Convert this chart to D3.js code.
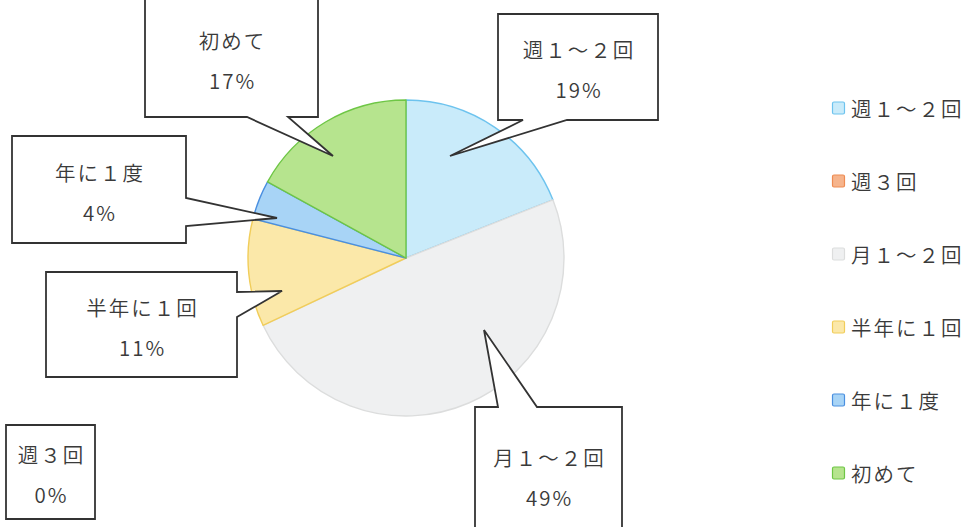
<!DOCTYPE html>
<html>
<head>
<meta charset="utf-8">
<script src="https://cdn.jsdelivr.net/npm/d3@7"></script>
<style>
  html, body { margin: 0; padding: 0; background: #fff; }
  svg { display: block; }
  text { font-family: "Noto Sans CJK JP", "Noto Sans", sans-serif; fill: #3a3a3a; font-weight: 350; letter-spacing: 2px; }
</style>
</head>
<body>
<div id="chart"></div>
<script>
'use strict';

// chart data
const categories = ['週１～２回', '週３回', '月１～２回', '半年に１回', '年に１度', '初めて'];
const shares = [19, 0, 49, 11, 4, 17];
const fills = ['#c9ebfa', '#f6b48c', '#eff0f1', '#fbe8a9', '#a8d4f6', '#b6e48e'];
const strokes = ['#6dc3ee', '#ee8b52', '#dcdddd', '#f1cd5a', '#4a8fe0', '#6ec645'];

const width = 973,
    height = 527;

let svg = d3.select('#chart').append('svg')
    .attr('width', width)
    .attr('height', height);

let pieGeom = { cx: 406, cy: 258, r: 158 };

let pie = d3.pie().sort(null).value(function(d) { return d; });
let arc = d3.arc().innerRadius(0).outerRadius(pieGeom.r);
let slices = pie(shares);

let pieGroup = svg.append('g')
    .attr('transform', 'translate(' + pieGeom.cx + ',' + pieGeom.cy + ')');

pieGroup.selectAll('path')
    .data(slices)
    .enter()
    .append('path')
    .attr('d', arc)
    .style('fill', function(d, i) { return fills[i]; })
    .style('stroke', function(d, i) { return d.value > 0 ? strokes[i] : 'none'; })
    .style('stroke-width', 1.4)
    .style('stroke-linejoin', 'round');

/*
* Callout boxes: rectangle with a wedge pointing into the pie.
* side is the box edge the wedge leaves from, a/b are the wedge base along that edge.
*/
let callouts = [
    { x: 498, y: 14, w: 160, h: 106, side: 'bottom', a: 523, b: 567, tip: [450, 156] },
    { x: 6, y: 425, w: 89, h: 94, side: null },
    { x: 475, y: 407, w: 147, h: 135, side: 'top', a: 498, b: 537, tip: [484, 330] },
    { x: 46, y: 272, w: 191, h: 105, side: 'right', a: 292, b: 317, tip: [282, 291] },
    { x: 12, y: 136, w: 174, h: 107, side: 'right', a: 198, b: 226, tip: [277, 218] },
    { x: 145, y: -1, w: 173, h: 118, side: 'bottom', a: 247, b: 288, tip: [333, 156] }
];

function calloutPath(c) {
    let x0 = c.x, y0 = c.y, x1 = c.x + c.w, y1 = c.y + c.h;
    let p = d3.path();
    p.moveTo(x0, y0);
    if (c.side === 'top') {
        p.lineTo(c.a, y0); p.lineTo(c.tip[0], c.tip[1]); p.lineTo(c.b, y0);
    }
    p.lineTo(x1, y0);
    if (c.side === 'right') {
        p.lineTo(x1, c.a); p.lineTo(c.tip[0], c.tip[1]); p.lineTo(x1, c.b);
    }
    p.lineTo(x1, y1);
    if (c.side === 'bottom') {
        p.lineTo(c.b, y1); p.lineTo(c.tip[0], c.tip[1]); p.lineTo(c.a, y1);
    }
    p.lineTo(x0, y1);
    p.closePath();
    return p.toString();
}

let labelGroup = svg.append('g').attr('id', 'callouts');

let labels = labelGroup.selectAll('.callout')
    .data(slices)
    .enter()
    .append('g')
    .attr('class', 'callout');

labels.append('path')
    .attr('d', function(d, i) { return calloutPath(callouts[i]); })
    .style('fill', '#fff')
    .style('stroke', '#333')
    .style('stroke-width', 1.8)
    .style('stroke-linejoin', 'miter');

// letter-spacing adds a trailing gap, so nudge x by half of it
labels.append('text')
    .attr('text-anchor', 'middle')
    .attr('dominant-baseline', 'central')
    .attr('font-size', 20.5)
    .attr('x', function(d, i) { return callouts[i].x + callouts[i].w / 2 + 1; })
    .attr('y', function(d, i) { return callouts[i].y + callouts[i].h / 2 + 2 - 20; })
    .text(function(d, i) { return categories[i]; });

labels.append('text')
    .attr('text-anchor', 'middle')
    .attr('dominant-baseline', 'central')
    .attr('font-size', 20.5)
    .attr('x', function(d, i) { return callouts[i].x + callouts[i].w / 2 + 1; })
    .attr('y', function(d, i) { return callouts[i].y + callouts[i].h / 2 + 2 + 20; })
    .text(function(d) { return d.value + '%'; });

/*
* Legend down the right side
*/
let legendY = d3.scalePoint()
    .domain(categories)
    .range([108, 473]);

let legend = svg.append('g').attr('id', 'legend')
    .selectAll('.item')
    .data(categories)
    .enter()
    .append('g')
    .attr('class', 'item')
    .attr('transform', function(d) { return 'translate(832,' + legendY(d) + ')'; });

legend.append('rect')
    .attr('x', 0.5)
    .attr('y', -6)
    .attr('width', 12)
    .attr('height', 12)
    .attr('rx', 1.5)
    .style('fill', function(d, i) { return fills[i]; })
    .style('stroke', function(d, i) { return strokes[i]; })
    .style('stroke-width', 1.2);

legend.append('text')
    .attr('x', 19)
    .attr('dominant-baseline', 'central')
    .attr('font-size', 20.5)
    .text(function(d) { return d; });
</script>
</body>
</html>
